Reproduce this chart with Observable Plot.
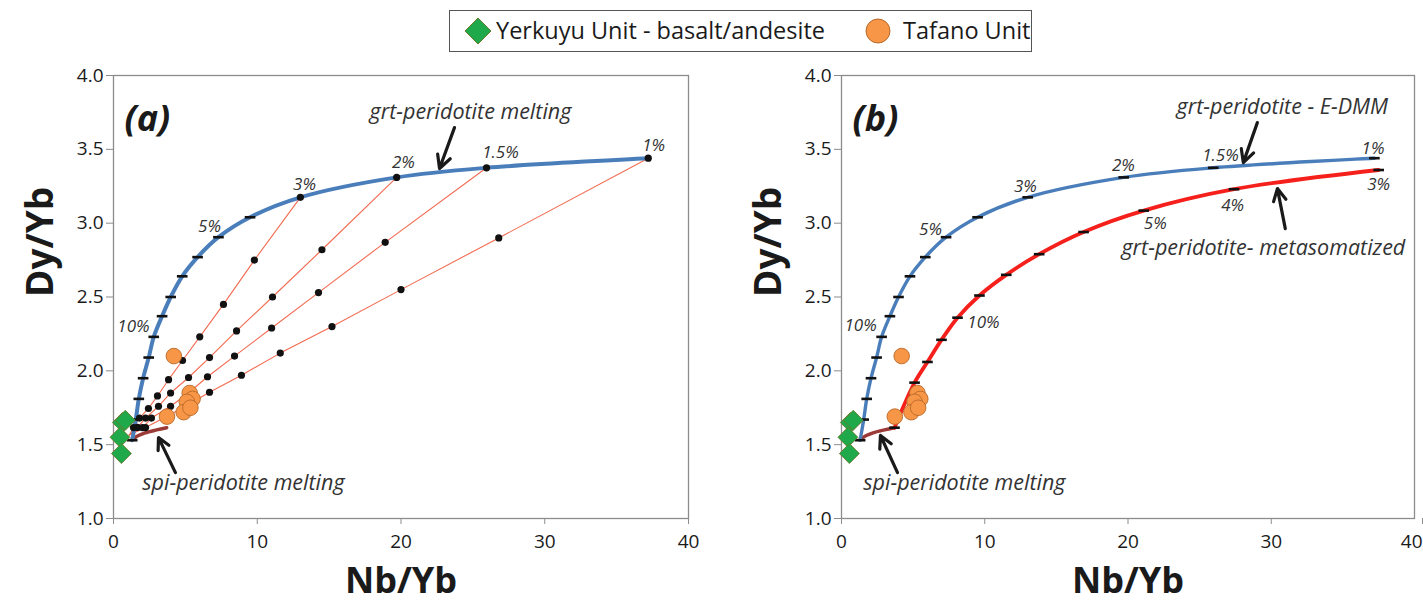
<!DOCTYPE html>
<html>
<head>
<meta charset="utf-8">
<script src="https://cdn.jsdelivr.net/npm/d3@7"></script>
<script src="https://cdn.jsdelivr.net/npm/@observablehq/plot@0.6"></script>
<style>
  html, body { margin: 0; padding: 0; background: #fff; }
  #chart { position: relative; width: 1423px; height: 615px; overflow: hidden; font-family: "Open Sans", sans-serif; }
  #legend { position: absolute; left: 449px; top: 10px; }
  #panelA { position: absolute; left: 0; top: 60px; }
  #panelB { position: absolute; left: 712px; top: 60px; }
</style>
</head>
<body>
<div id="chart"><div id="legend"></div><div id="panelA"></div><div id="panelB"></div></div>
<script>
// ---- axes ----
const xTicks = [0, 10, 20, 30, 40];
const yTicks = [1, 1.5, 2, 2.5, 3, 3.5, 4];

// ---- samples (Nb/Yb, Dy/Yb) ----
const seriesNames = ["Yerkuyu Unit - basalt/andesite", "Tafano Unit"];
const yerkuyuNbYb = [0.62, 0.82, 0.45, 0.55];
const yerkuyuDyYb = [1.65, 1.665, 1.55, 1.44];
const tafanoNbYb = [4.2, 3.72, 5.3, 5.5, 5.1, 4.88, 5.35];
const tafanoDyYb = [2.10, 1.69, 1.85, 1.81, 1.79, 1.72, 1.75];

// ---- garnet-peridotite (E-DMM) melting curve, one node per melt increment ----
const grtNbYb = [1.3, 1.55, 1.76, 2.06, 2.45, 2.8, 3.38, 3.98, 4.78, 5.85, 7.3, 9.5, 13.0, 19.7, 25.95, 37.2];
const grtDyYb = [1.53, 1.67, 1.81, 1.95, 2.09, 2.23, 2.37, 2.50, 2.64, 2.77, 2.905, 3.04, 3.175, 3.31, 3.375, 3.44];

// ---- metasomatized garnet-peridotite melting curve ----
const metaNbYb = [3.7, 5.1, 6.0, 6.98, 8.1, 9.63, 11.5, 13.8, 16.9, 21.1, 27.4, 37.5];
const metaDyYb = [1.615, 1.92, 2.06, 2.21, 2.36, 2.51, 2.65, 2.79, 2.94, 3.085, 3.23, 3.36];

// ---- spinel-peridotite melting curve ----
const spiNbYb = [1.3, 1.7, 2.2, 3.0, 3.7];
const spiDyYb = [1.535, 1.56, 1.58, 1.60, 1.615];

// ---- mixing lines towards the 3%, 2%, 1.5% and 1% garnet melts ----
const mixOriginNbYb = 1.1;
const mixOriginDyYb = 1.565;
const mixEndIndex = [12, 13, 14, 15];
const mixNbYb = [
  [1.39, 1.81, 2.43, 3.06, 3.83, 4.8, 6.0, 7.65, 9.8],
  [1.67, 2.23, 3.13, 3.97, 5.22, 6.68, 8.56, 11.06, 14.5],
  [2.02, 2.64, 3.97, 5.22, 6.54, 8.42, 11.0, 14.26, 18.9],
  [2.23, 3.5, 5.0, 6.68, 8.9, 11.6, 15.2, 20.0, 26.8]
];
const mixDyYb = [
  [1.616, 1.68, 1.745, 1.83, 1.94, 2.07, 2.23, 2.45, 2.75],
  [1.617, 1.68, 1.76, 1.85, 1.955, 2.09, 2.27, 2.50, 2.82],
  [1.616, 1.68, 1.76, 1.85, 1.96, 2.10, 2.29, 2.53, 2.87],
  [1.616, 1.68, 1.76, 1.855, 1.97, 2.12, 2.30, 2.55, 2.90]
];

// ---- melt-fraction labels ----
const grtLabelText = ["10%", "5%", "3%", "2%", "1.5%", "1%"];
const grtLabelNbYbA = [1.39, 6.68, 13.29, 20.17, 26.92, 37.57];
const grtLabelDyYbA = [2.30, 2.98, 3.26, 3.41, 3.478, 3.525];
const grtLabelNbYbB = [1.33, 6.21, 12.84, 19.68, 26.45, 37.1];
const grtLabelDyYbB = [2.31, 2.96, 3.25, 3.39, 3.46, 3.505];
const metaLabelText = ["10%", "5%", "4%", "3%"];
const metaLabelNbYb = [9.91, 21.9, 27.3, 37.5];
const metaLabelDyYb = [2.33, 3.0, 3.12, 3.26];

// ---- curve names and pointer arrows ----
const notesA = ["grt-peridotite melting", "spi-peridotite melting"];
const notesANbYb = [24.83, 9.04];
const notesADyYb = [3.749, 1.237];
const arrowsA = {x1: [23.72, 4.31], y1: [3.647, 1.311], x2: [22.68, 3.13], y2: [3.37, 1.548]};
const notesB = ["grt-peridotite - E-DMM", "grt-peridotite- metasomatized", "spi-peridotite melting"];
const notesBNbYb = [30.77, 29.45, 8.58];
const notesBDyYb = [3.783, 2.828, 1.237];
const arrowsB = {x1: [29.03, 30.98, 3.91], y1: [3.681, 2.963, 1.311], x2: [28.05, 30.43, 2.72], y2: [3.41, 3.234, 1.562]};

// ---- helpers ----
const zip = (xs, ys, extra = {}) => xs.map((x, i) => ({x, y: ys[i], ...Object.fromEntries(Object.entries(extra).map(([k, v]) => [k, v[i]]))}));
const arrowRows = a => a.x1.map((_, i) => ({x1: a.x1[i], y1: a.y1[i], x2: a.x2[i], y2: a.y2[i]}));

const yerkuyu = zip(yerkuyuNbYb, yerkuyuDyYb);
const tafano = zip(tafanoNbYb, tafanoDyYb);
const grt = zip(grtNbYb, grtDyYb);
const meta = zip(metaNbYb, metaDyYb);
const spi = zip(spiNbYb, spiDyYb);

const mixRows = mixEndIndex.flatMap((k, i) => [
  {line: i, x: mixOriginNbYb, y: mixOriginDyYb, origin: true},
  ...mixNbYb[i].map((x, j) => ({line: i, x, y: mixDyYb[i][j]})),
  {line: i, x: grtNbYb[k], y: grtDyYb[k]}
]);

// short horizontal bar marking each melt increment
const dash = {
  draw(context, size) {
    const w = Math.sqrt(size) / 2;
    context.moveTo(-w, 0);
    context.lineTo(w, 0);
  }
};

const FONT = "'Open Sans', sans-serif";
const BLUE = "#4a7ebb";
const RED = "#f5201c";
const SPI = "#9b3a36";
const MIX = "#f26a50";
const ORANGE = "#f79646";
const GREEN = "#20a94a";

const xAxisStyle = {tickSize: 6, tickPadding: 10, fontSize: 19, stroke: "#8c8c8c", fill: "#1a1a1a", label: null};

function frameMarks(panelLabel, lastTickShift) {
  const inner = xTicks.slice(0, -1);
  const last = xTicks.slice(-1);
  return [
    Plot.frame({stroke: "#8c8c8c", strokeWidth: 1.3}),
    Plot.axisX({ticks: inner, ...xAxisStyle}),
    // the last tick label sits at the page edge and is nudged inward when needed
    Plot.axisX({ticks: last, ...xAxisStyle, textAnchor: lastTickShift ? "end" : "middle", dx: lastTickShift}),
    Plot.axisY({ticks: yTicks, tickFormat: d3.format(".1f"), tickSize: 7, tickPadding: 3, fontSize: 19, stroke: "#8c8c8c", fill: "#1a1a1a", label: null}),
    Plot.text(["Nb/Yb"], {text: d => d, frameAnchor: "bottom", dy: 74, fontSize: 36, fontWeight: "bold", fill: "#1a1a1a"}),
    Plot.text(["Dy/Yb"], {text: d => d, frameAnchor: "left", dx: -72, rotate: -90, fontSize: 37, fontWeight: "bold", fill: "#1a1a1a"}),
    Plot.text([panelLabel], {text: d => d, frameAnchor: "top-left", dx: 11, dy: 30, textAnchor: "start", fontSize: 36, fontWeight: "bold", fontStyle: "italic", fill: "#1a1a1a"})
  ];
}

function sampleMarks() {
  return [
    Plot.dot(tafano, {x: "x", y: "y", r: 7.8, fill: ORANGE, stroke: "#b8692a", strokeWidth: 0.9}),
    Plot.dot(yerkuyu, {x: "x", y: "y", r: 9, symbol: "diamond2", fill: GREEN, stroke: "#687a2c", strokeWidth: 0.9})
  ];
}

const pctStyle = {fontSize: 17, fontStyle: "italic", fill: "#333"};
const noteStyle = {fontSize: 21.5, fontStyle: "italic", fill: "#333"};
const arrowStyle = {stroke: "#1a1a1a", strokeWidth: 3.2, headLength: 13, headAngle: 55};

function basePlot(width, marginLeft, marginRight, marks) {
  return Plot.plot({
    width, height: 555,
    marginLeft, marginRight, marginTop: 15, marginBottom: 97,
    style: {fontFamily: FONT, background: "transparent"},
    x: {domain: [0, 40]},
    y: {domain: [1, 4]},
    marks
  });
}

// ---- panel (a): melting curves with mixing lines ----
const grtDashesA = grt.filter((d, i) => !mixEndIndex.includes(i));
const plotA = basePlot(712, 113, 24, [
  ...frameMarks("(a)", 0),
  Plot.line(mixRows, {x: "x", y: "y", z: "line", stroke: MIX, strokeWidth: 1.1}),
  Plot.line(spi, {x: "x", y: "y", stroke: SPI, strokeWidth: 3.5, curve: "catmull-rom"}),
  Plot.line(grt, {x: "x", y: "y", stroke: BLUE, strokeWidth: 4, curve: "catmull-rom"}),
  Plot.dot(grtDashesA, {x: "x", y: "y", symbol: dash, r: 6, fill: "none", stroke: "#111", strokeWidth: 2.6}),
  Plot.dot(mixRows.filter(d => !d.origin), {x: "x", y: "y", r: 3.6, fill: "#111"}),
  ...sampleMarks(),
  Plot.text(zip(grtLabelNbYbA, grtLabelDyYbA, {t: grtLabelText}), {x: "x", y: "y", text: "t", ...pctStyle}),
  Plot.text(zip(notesANbYb, notesADyYb, {t: notesA}), {x: "x", y: "y", text: "t", ...noteStyle}),
  Plot.arrow(arrowRows(arrowsA), {x1: "x1", y1: "y1", x2: "x2", y2: "y2", ...arrowStyle})
]);

// ---- panel (b): E-DMM versus metasomatized garnet peridotite ----
const plotB = basePlot(711, 129, 9, [
  ...frameMarks("(b)", 8),
  Plot.line(spi, {x: "x", y: "y", stroke: SPI, strokeWidth: 3.5, curve: "catmull-rom"}),
  Plot.line(grt, {x: "x", y: "y", stroke: BLUE, strokeWidth: 3.4, curve: "catmull-rom"}),
  Plot.line(meta, {x: "x", y: "y", stroke: RED, strokeWidth: 3.8, curve: "catmull-rom"}),
  Plot.dot(grt, {x: "x", y: "y", symbol: dash, r: 6, fill: "none", stroke: "#111", strokeWidth: 2.6}),
  Plot.dot(meta, {x: "x", y: "y", symbol: dash, r: 6, fill: "none", stroke: "#111", strokeWidth: 2.6}),
  ...sampleMarks(),
  Plot.text(zip(grtLabelNbYbB, grtLabelDyYbB, {t: grtLabelText}), {x: "x", y: "y", text: "t", ...pctStyle}),
  Plot.text(zip(metaLabelNbYb, metaLabelDyYb, {t: metaLabelText}), {x: "x", y: "y", text: "t", ...pctStyle}),
  Plot.text(zip(notesBNbYb, notesBDyYb, {t: notesB}), {x: "x", y: "y", text: "t", ...noteStyle}),
  Plot.arrow(arrowRows(arrowsB), {x1: "x1", y1: "y1", x2: "x2", y2: "y2", ...arrowStyle})
]);

document.getElementById("panelA").appendChild(plotA);
document.getElementById("panelB").appendChild(plotB);

// ---- legend ----
const lg = d3.select("#legend").append("svg")
  .attr("width", 584).attr("height", 43)
  .style("font-family", FONT);
lg.append("rect").attr("x", 0.5).attr("y", 0.5).attr("width", 582).attr("height", 41)
  .attr("fill", "#fff").attr("stroke", "#555").attr("stroke-width", 1);
lg.append("path").attr("d", d3.symbol(d3.symbolDiamond2, 13 * 13 / 0.62625 / 0.62625)()).attr("transform", "translate(29,21)")
  .attr("fill", GREEN).attr("stroke", "#687a2c").attr("stroke-width", 1);
lg.append("circle").attr("cx", 429).attr("cy", 21).attr("r", 12)
  .attr("fill", ORANGE).attr("stroke", "#b8692a").attr("stroke-width", 1);
lg.selectAll("text.name").data(seriesNames).join("text")
  .attr("class", "name")
  .attr("x", (d, i) => i === 0 ? 47 : 454)
  .attr("y", 21)
  .attr("dy", "0.35em")
  .attr("font-size", 23.5)
  .attr("fill", "#1a1a1a")
  .text(d => d);
</script>
</body>
</html>
